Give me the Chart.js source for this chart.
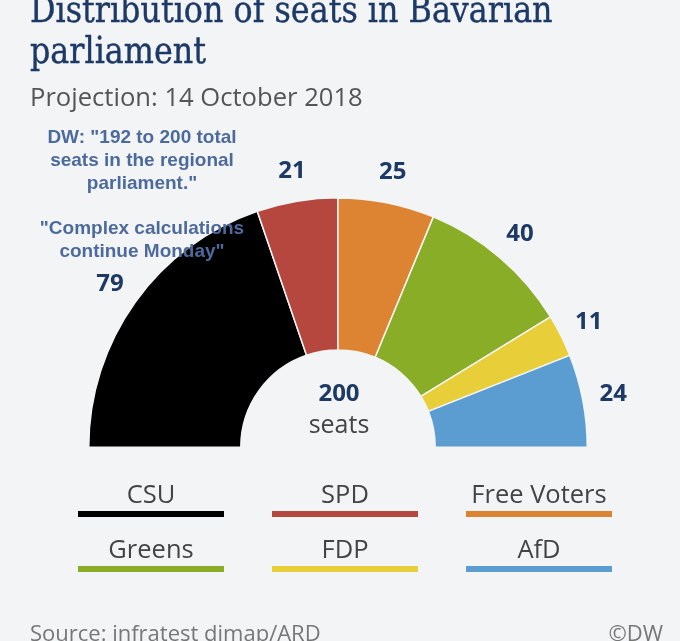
<!DOCTYPE html>
<html>
<head>
<meta charset="utf-8">
<script src="https://cdn.jsdelivr.net/npm/chart.js@4.4.0/dist/chart.umd.min.js"></script>
<style>
  html, body { margin:0; padding:0; background:#f3f4f6; width:680px; height:641px; overflow:hidden; }
  #wrap { position:relative; width:680px; height:641px; }
  canvas { position:absolute; left:0; top:0; }
  .t { position:absolute; white-space:nowrap; }
  #title { left:30px; top:-11px; font-family:"DejaVu Serif Condensed","DejaVu Serif",serif; font-size:38px; line-height:41px; color:#1d3966; transform:scaleX(0.93); transform-origin:0 0; -webkit-text-stroke:0.4px #1d3966; }
  #sub { left:30px; top:79px; font-family:"Open Sans",sans-serif; font-size:25.6px; color:#555; }
  #note { left:0; width:284px; top:125px; text-align:center; font-family:"Liberation Sans",Arial,sans-serif; font-weight:bold; font-size:19px; line-height:23px; color:#4d6a9c; }
  #legend .lab { position:absolute; width:146px; text-align:center; font-family:"Open Sans",sans-serif; font-size:25.5px; color:#444; }
  #legend .bar { position:absolute; width:146px; height:6px; }
  #src { left:30px; top:617px; font-family:"Open Sans",sans-serif; font-size:22px; color:#777; }
  #dw { right:17px; top:617px; font-family:"Open Sans",sans-serif; font-size:22px; color:#777; }
</style>
</head>
<body>
<div id="wrap">
  <canvas id="c" width="680" height="641"></canvas>
  <div class="t" id="title">Distribution of seats in Bavarian<br>parliament</div>
  <div class="t" id="sub">Projection: 14 October 2018</div>
  <div class="t" id="note">DW: "192 to 200 total<br>seats in the regional<br>parliament."<br><div style="height:22px"></div>"Complex calculations<br>continue Monday"</div>
  <div id="legend"></div>
  <div class="t" id="src">Source: infratest dimap/ARD</div>
  <div class="t" id="dw">©DW</div>
</div>
<script>
const parties = ["CSU", "SPD", "Free Voters", "Greens", "FDP", "AfD"];
const seats = [79, 21, 25, 40, 11, 24];
const colors = ["#000000", "#b5473f", "#dc8431", "#8aad27", "#e8cf3a", "#5b9dd0"];
const totalSeats = 200;

// legend
const leg = document.getElementById('legend');
const colX = [78, 272, 466];
const rowY = [476, 531];
parties.forEach((p, i) => {
  const cx = colX[i % 3], ry = rowY[Math.floor(i / 3)];
  const lab = document.createElement('div');
  lab.className = 'lab t';
  lab.style.left = cx + 'px'; lab.style.top = (ry) + 'px';
  lab.textContent = p;
  leg.appendChild(lab);
  const bar = document.createElement('div');
  bar.className = 'bar';
  bar.style.left = cx + 'px'; bar.style.top = (ry + 35) + 'px';
  bar.style.background = colors[i];
  leg.appendChild(bar);
});

const labelPlugin = {
  id: 'labels',
  afterDatasetsDraw(chart) {
    const ctx = chart.ctx;
    const meta = chart.getDatasetMeta(0);
    ctx.save();
    ctx.textAlign = 'center';
    ctx.textBaseline = 'middle';
    ctx.fillStyle = '#1d3966';
    ctx.font = 'bold 24px "Open Sans", sans-serif';
    let cx = 0, cy = 0;
    meta.data.forEach((arc, i) => {
      const p = arc.getProps(['x', 'y', 'startAngle', 'endAngle', 'outerRadius'], true);
      const a = (p.startAngle + p.endAngle) / 2;
      const r = p.outerRadius + 31;
      cx = p.x; cy = p.y;
      ctx.fillText(String(chart.data.datasets[0].data[i]), p.x + Math.cos(a) * r, p.y + Math.sin(a) * r);
    });
    ctx.fillText(String(totalSeats), cx + 1, cy - 53);
    ctx.fillStyle = '#444';
    ctx.font = '25px "Open Sans", sans-serif';
    ctx.fillText('seats', cx + 1, cy - 21);
    ctx.restore();
  }
};

new Chart(document.getElementById('c'), {
  type: 'doughnut',
  data: {
    labels: parties,
    datasets: [{
      data: seats,
      backgroundColor: colors,
      borderColor: '#f3f4f6',
      borderWidth: 1.5
    }]
  },
  options: {
    responsive: false,
    animation: false,
    rotation: -90,
    circumference: 180,
    cutout: '39%',
    layout: { padding: { left: 88, right: 92, top: 197, bottom: 193 } },
    plugins: { legend: { display: false }, tooltip: { enabled: false } }
  },
  plugins: [labelPlugin]
});
</script>
</body>
</html>
